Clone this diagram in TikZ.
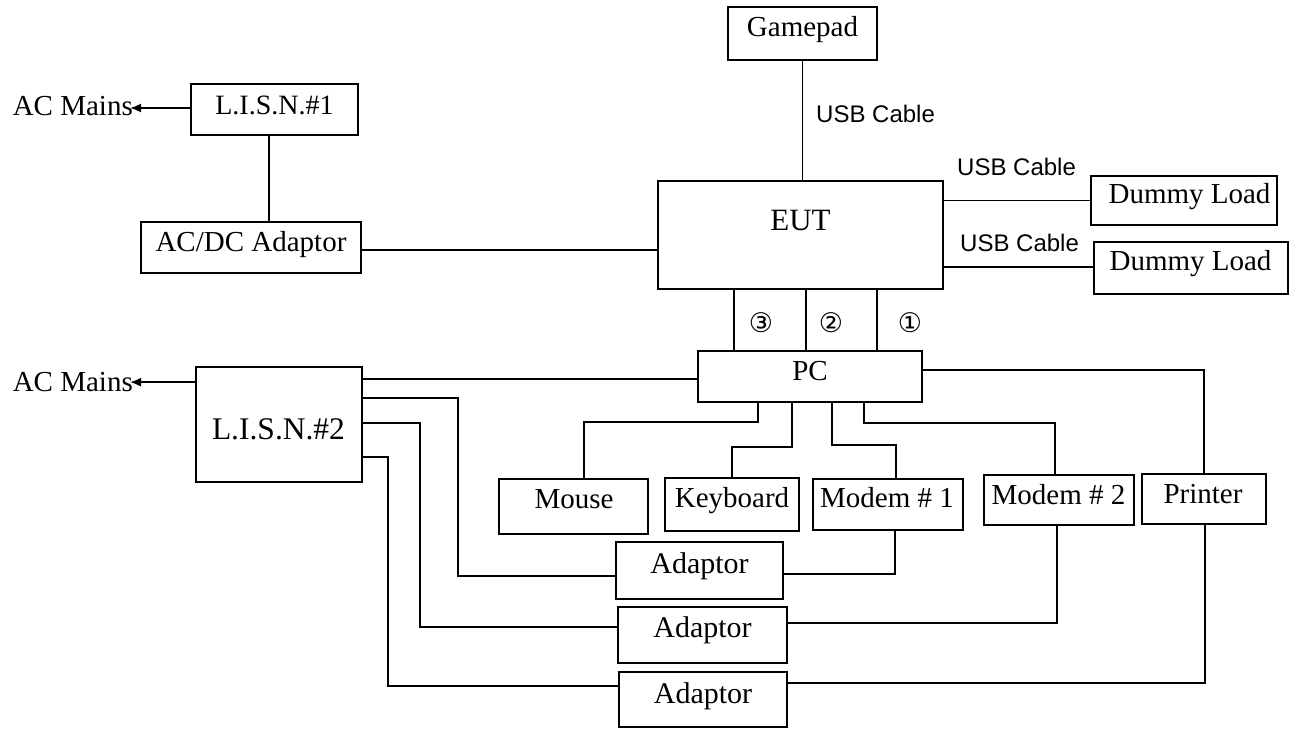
\documentclass[tikz,border=0pt]{standalone}
\usepackage{fontspec}
\setmainfont{Liberation Serif}
\newfontfamily\usbf{Liberation Sans}
\newfontfamily\symf{DejaVu Sans}
\usetikzlibrary{arrows.meta}
\begin{document}
\begin{tikzpicture}[x=1pt,y=-1pt,
  box/.style={draw,line width=1.7pt,inner sep=0pt},
  wire/.style={line width=1.7pt},
  arr/.style={line width=1.7pt,-{Latex[length=11pt,width=9pt]}},
  lab/.style={inner sep=0pt,anchor=base,font=\fontsize{29}{29}\selectfont},
  usb/.style={inner sep=0pt,anchor=base west,font=\usbf\fontsize{24}{24}\selectfont},
  num/.style={inner sep=0pt,anchor=center,font=\symf\fontsize{27}{27}\selectfont}]
\useasboundingbox (0,0) rectangle (1294,729);

% boxes
\node[box,minimum width=167pt,minimum height=51pt] (lisn1) at (274.5,109.5) {};
\node[box,minimum width=220pt,minimum height=51pt] (acdc) at (251,247.5) {};
\node[box,minimum width=149pt,minimum height=53pt] (gamepad) at (802.5,33.5) {};
\node[box,minimum width=285pt,minimum height=108pt] (eut) at (800.5,235) {};
\node[box,minimum width=186pt,minimum height=49pt] (dl1) at (1184,200.5) {};
\node[box,minimum width=194pt,minimum height=52pt] (dl2) at (1191,268) {};
\node[box,minimum width=224pt,minimum height=51pt] (pc) at (810,376.5) {};
\node[box,minimum width=166pt,minimum height=115pt] (lisn2) at (279,424.5) {};
\node[box,minimum width=149pt,minimum height=55pt] (mouse) at (573.5,506.5) {};
\node[box,minimum width=134pt,minimum height=53pt] (keyboard) at (732,504.5) {};
\node[box,minimum width=150pt,minimum height=51pt] (modem1) at (888,504.5) {};
\node[box,minimum width=150pt,minimum height=50pt] (modem2) at (1059,500) {};
\node[box,minimum width=124pt,minimum height=50pt] (printer) at (1204,499) {};
\node[box,minimum width=167pt,minimum height=57pt] (ad1) at (699.5,570.5) {};
\node[box,minimum width=169pt,minimum height=56pt] (ad2) at (702.5,635) {};
\node[box,minimum width=168pt,minimum height=55pt] (ad3) at (703,699.5) {};

% box texts
\node[lab,font=\fontsize{28}{28}\selectfont] (t-lisn1) at (274.5,114) {L.I.S.N.\#1};
\node[lab] (t-acdc) at (251,251) {AC/DC Adaptor};
\node[lab] (t-gamepad) at (802.5,36) {Gamepad};
\node[lab,font=\fontsize{31}{31}\selectfont] (t-eut) at (800.5,230) {EUT};
\node[lab] (t-dl1) at (1189.5,203) {Dummy Load};
\node[lab] (t-dl2) at (1190.5,270) {Dummy Load};
\node[lab] (t-pc) at (810,380) {PC};
\node[lab,font=\fontsize{31.5}{31.5}\selectfont] (t-lisn2) at (278.5,439) {L.I.S.N.\#2};
\node[lab] (t-mouse) at (574,508) {Mouse};
\node[lab] (t-keyboard) at (732,507) {Keyboard};
\node[lab] (t-modem1) at (887,507) {Modem \# 1};
\node[lab] (t-modem2) at (1058.5,504) {Modem \# 2};
\node[lab] (t-printer) at (1203,503) {Printer};
\node[lab,font=\fontsize{30}{30}\selectfont] (t-ad1) at (699.5,573) {Adaptor};
\node[lab,font=\fontsize{30}{30}\selectfont] (t-ad2) at (702.5,637) {Adaptor};
\node[lab,font=\fontsize{30}{30}\selectfont] (t-ad3) at (703,703) {Adaptor};

% AC mains
\node[lab,anchor=base east] (acm1) at (133,115) {AC Mains};
\node[lab,anchor=base east] (acm2) at (133,391) {AC Mains};
\draw[arr,shorten >=-3pt] ([yshift=1.5]lisn1.west) -- ([yshift=1.5]lisn1.west -| acm1.east);
\draw[arr,shorten >=-3pt] ([yshift=-16]lisn2.north west) -- ([yshift=-16]lisn2.north west -| acm2.east);

% LISN1 / AC-DC / EUT
\draw[wire] ([xshift=-5.5]lisn1.south) -- ([xshift=-5.5]lisn1.south |- acdc.north);
\draw[wire] ([yshift=-2.5]acdc.east) -- ([yshift=-2.5]acdc.east -| eut.west);

% USB
\draw[wire] (gamepad.south) -- (gamepad.south |- eut.north);
\draw[wire] (dl1.west -| eut.east) -- (dl1.west);
\draw[wire] ([yshift=1]dl2.west -| eut.east) -- ([yshift=1]dl2.west);
\node[usb] (usb0) at (816,122) {USB Cable};
\node[usb] (usb1) at (957,175) {USB Cable};
\node[usb] (usb2) at (960,251) {USB Cable};

% EUT - PC
\draw[wire] ([xshift=-66.5]eut.south) -- ([xshift=-66.5]eut.south |- pc.north);
\draw[wire] ([xshift=5.5]eut.south) -- ([xshift=5.5]eut.south |- pc.north);
\draw[wire] ([xshift=76.5]eut.south) -- ([xshift=76.5]eut.south |- pc.north);
\node[num] (n3) at (761,323) {③};
\node[num] (n2) at (831,323) {②};
\node[num] (n1) at (910,323) {①};

% LISN2 lines
\draw[wire] ([yshift=-13]lisn2.north east) -- ([yshift=-13]lisn2.north east -| pc.west);
\coordinate (b1) at (458,576);
\coordinate (b2) at (420,627);
\coordinate (b3) at (388,686);
\draw[wire] ([yshift=-32]lisn2.north east) -| (b1) -- (b1 -| ad1.west);
\draw[wire] ([yshift=-57]lisn2.north east) -| (b2) -- (b2 -| ad2.west);
\draw[wire] ([yshift=-91]lisn2.north east) -| (b3) -- (b3 -| ad3.west);

% PC to peripherals
\coordinate (mo) at (584,422);
\coordinate (kb) at (732,447);
\coordinate (m1) at (896,445);
\coordinate (m2) at (1055,423);
\draw[wire] ([xshift=-52]pc.south) |- (mo) -- (mo |- mouse.north);
\draw[wire] ([xshift=-18]pc.south) |- (kb) -- (keyboard.north);
\draw[wire] ([xshift=22]pc.south) |- (m1) -- (m1 |- modem1.north);
\draw[wire] ([xshift=54]pc.south) |- (m2) -- (m2 |- modem2.north);
\draw[wire] ([yshift=-20]pc.north east) -| (printer.north);

% peripherals to adaptors
\coordinate (a1) at (895,574);
\coordinate (a2) at (1057,623);
\coordinate (a3) at (1205,683);
\draw[wire] (a1 |- modem1.south) -- (a1) -- (a1 -| ad1.east);
\draw[wire] (a2 |- modem2.south) -- (a2) -- (a2 -| ad2.east);
\draw[wire] (a3 |- printer.south) -- (a3) -- (a3 -| ad3.east);
\end{tikzpicture}
\end{document}
